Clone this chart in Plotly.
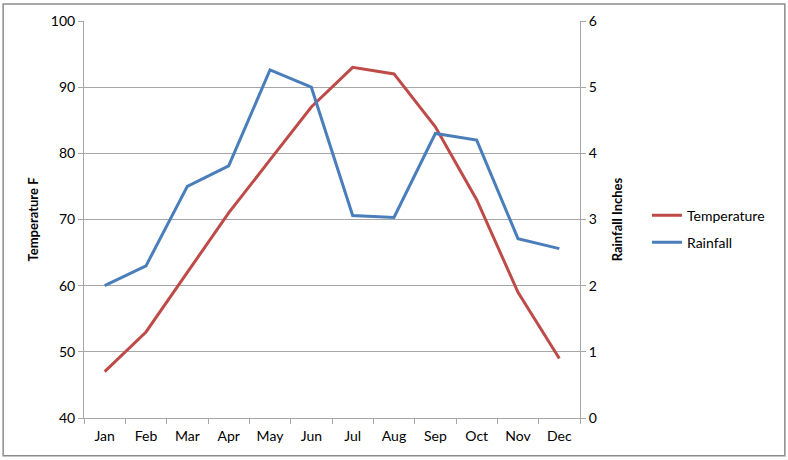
import plotly.graph_objects as go

months = ["Jan", "Feb", "Mar", "Apr", "May", "Jun", "Jul", "Aug", "Sep", "Oct", "Nov", "Dec"]
temperature = [47, 53, 62, 71, 79, 87, 93, 92, 84, 73, 59, 49]
rainfall = [2.0, 2.3, 3.5, 3.81, 5.26, 5.0, 3.06, 3.03, 4.3, 4.2, 2.71, 2.56]

FONT = "Lato, 'Open Sans', sans-serif"
GRID = "#a6a6a6"

fig = go.Figure()
fig.add_trace(go.Scatter(x=months, y=temperature, name="Temperature", mode="lines",
                         legendgroup="t", line=dict(color="#BE4B48", width=3), yaxis="y"))
fig.add_trace(go.Scatter(x=months, y=rainfall, name="Rainfall", mode="lines",
                         legendgroup="r", line=dict(color="#4A7EBB", width=3), yaxis="y2"))

fig.update_layout(
    width=788, height=460,
    margin=dict(l=84, r=208, t=18, b=42),
    paper_bgcolor="white", plot_bgcolor="white",
    font=dict(family=FONT, size=13, color="#000000"),
    showlegend=True,
    legend=dict(x=1.135, y=0.476, xanchor="left", yanchor="middle",
                font=dict(size=14), tracegroupgap=6, itemwidth=30,
                bgcolor="rgba(0,0,0,0)"),
    xaxis=dict(range=[-0.5, 11.5], showline=True, linecolor=GRID, linewidth=1,
               ticks="outside", ticklen=5, tickcolor=GRID, tickson="boundaries",
               showgrid=False, zeroline=False, tickfont=dict(size=14),
               ticklabelstandoff=5),
    yaxis=dict(range=[40, 100], dtick=10, showline=True, linecolor=GRID, linewidth=1,
               ticks="outside", ticklen=5, tickcolor=GRID, showgrid=True,
               gridcolor=GRID, gridwidth=1, zeroline=False, tickfont=dict(size=14),
               title=dict(text="<b>Temperature F</b>", font=dict(size=13), standoff=9)),
    yaxis2=dict(range=[0, 6], dtick=1, overlaying="y", side="right", showline=True,
                linecolor=GRID, linewidth=1, ticks="outside", ticklen=5, tickcolor=GRID,
                showgrid=False, zeroline=False, tickfont=dict(size=14),
                title=dict(text="<b>Rainfall Inches</b>", font=dict(size=13), standoff=16)),
)

fig.add_shape(type="rect", xref="paper", yref="paper",
              x0=-0.163, x1=1.413, y0=-0.095, y1=1.043,
              line=dict(color="#8c8c8c", width=1.5), fillcolor="rgba(0,0,0,0)", layer="below")

fig.write_html("out.html")
